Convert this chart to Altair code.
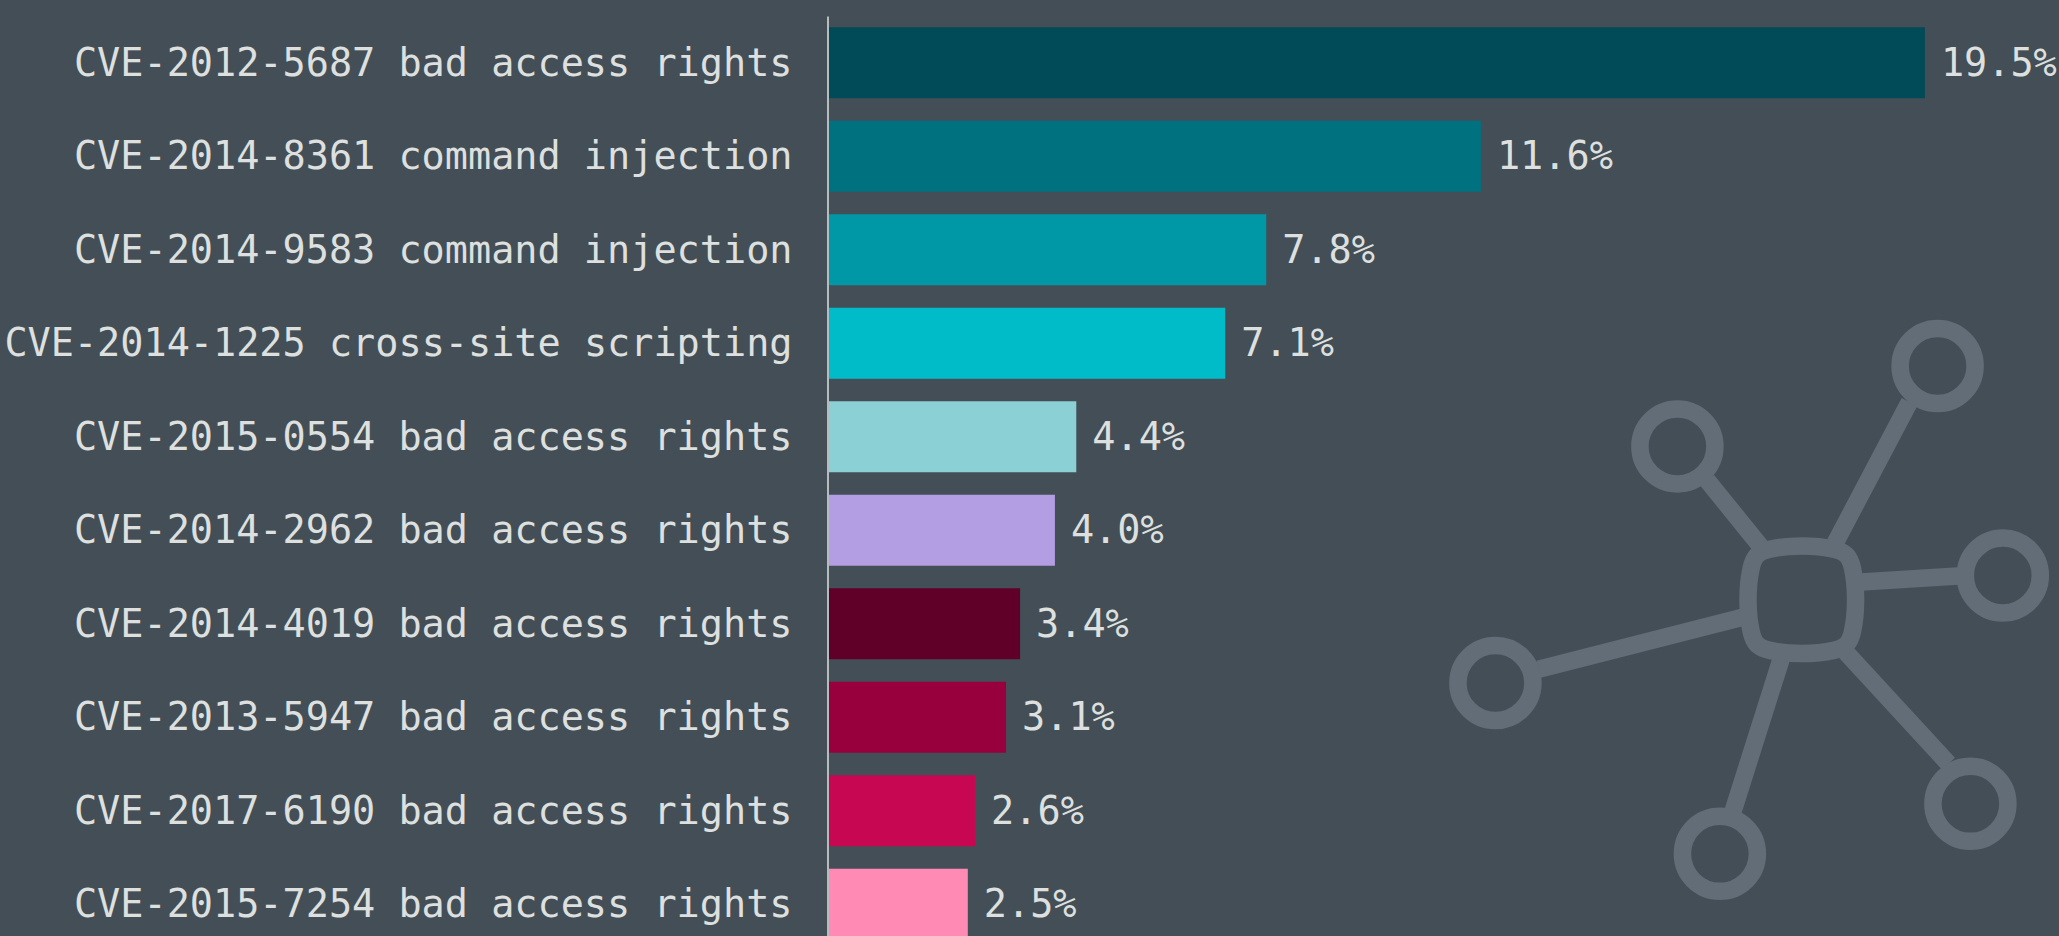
import altair as alt
import pandas as pd

BG = "#444e57"
ICON = "#626d78"
TEXT = "#dde0df"
FONT = "DejaVu Sans Mono"
W, H = 1230, 935

labels = [
    "CVE-2012-5687 bad access rights",
    "CVE-2014-8361 command injection",
    "CVE-2014-9583 command injection",
    "CVE-2014-1225 cross-site scripting",
    "CVE-2015-0554 bad access rights",
    "CVE-2014-2962 bad access rights",
    "CVE-2014-4019 bad access rights",
    "CVE-2013-5947 bad access rights",
    "CVE-2017-6190 bad access rights",
    "CVE-2015-7254 bad access rights",
]
shares = [19.5, 11.6, 7.78, 7.05, 4.4, 4.02, 3.4, 3.15, 2.6, 2.47]
share_text = ["19.5%", "11.6%", "7.8%", "7.1%", "4.4%", "4.0%", "3.4%", "3.1%", "2.6%", "2.5%"]
colors = ["#004b57", "#00717f", "#0097a7", "#00bcc9", "#8ad0d4",
          "#b39de3", "#600028", "#98003d", "#c70752", "#ff8ab4"]

# network icon, in its own units
node_x = [1108.6, 848.4, 1173.8, 666.4, 1141.4, 890.9]
node_y = [350, 430.4, 559.5, 667, 787.8, 837.8]
link_x = [1006, 932.5, 1032.5, 913.6, 1015.7, 952.2]
link_y = [527.4, 531.5, 566, 601.2, 635, 643]
link_x2 = [1080.4, 878.3, 1129, 709.7, 1119.5, 904.3]
link_y2 = [386.2, 464.5, 559.9, 653.2, 747.7, 794.3]
hub_x = [972.8]
hub_y = [583.8]
HUB = ("M-0.6,-0.95 C-0.25,-1.03 0.25,-1.03 0.6,-0.95 C0.82,-0.9 0.9,-0.82 0.95,-0.6 "
       "C1.03,-0.25 1.03,0.25 0.95,0.6 C0.9,0.82 0.82,0.9 0.6,0.95 "
       "C0.25,1.03 -0.25,1.03 -0.6,0.95 C-0.82,0.9 -0.9,0.82 -0.95,0.6 "
       "C-1.03,0.25 -1.03,-0.25 -0.95,-0.6 C-0.9,-0.82 -0.82,-0.9 -0.6,-0.95 Z")

bars_df = pd.DataFrame({"label": labels, "share": shares, "text": share_text})
links_df = pd.DataFrame({"x": link_x, "y": link_y, "x2": link_x2, "y2": link_y2})
nodes_df = pd.DataFrame({"x": node_x, "y": node_y})
hub_df = pd.DataFrame({"x": hub_x, "y": hub_y})

y_band = alt.Scale(domain=labels, paddingInner=0.24, paddingOuter=0.12)
x_share = alt.Scale(domain=[0, W / 56.2], nice=False, zero=True)
ix = alt.X("x:Q", axis=None, scale=alt.Scale(domain=[0, W], nice=False, zero=False))
iy = alt.Y("y:Q", axis=None, scale=alt.Scale(domain=[H, 0], nice=False, zero=False))

bars = alt.Chart(bars_df).mark_bar(clip=False).encode(
    x=alt.X("share:Q", axis=None, scale=x_share),
    y=alt.Y("label:N", title=None, sort=labels, scale=y_band,
            axis=alt.Axis(ticks=False, grid=False, domain=True, domainColor=TEXT,
                          domainWidth=1.5, offset=1.5, labelColor=TEXT, labelFont=FONT,
                          labelFontSize=38.5, labelPadding=35.5, labelLimit=0,
                          labelOffset=1, labelFontWeight="normal")),
    color=alt.Color("label:N", legend=None, scale=alt.Scale(domain=labels, range=colors)),
)
values = alt.Chart(bars_df).mark_text(
    align="left", baseline="middle", dx=16, dy=1, color=TEXT, font=FONT, fontSize=38.5
).encode(
    x=alt.X("share:Q", axis=None, scale=x_share),
    y=alt.Y("label:N", axis=None, sort=labels, scale=y_band),
    text="text:N",
)
links = alt.Chart(links_df).mark_rule(color=ICON, strokeWidth=17.5).encode(
    x=ix, y=iy, x2="x2:Q", y2="y2:Q"
)
nodes = alt.Chart(nodes_df).mark_point(
    shape="circle", size=5625, filled=False, color=ICON, strokeWidth=17.5, opacity=1
).encode(x=ix, y=iy)
hub = alt.Chart(hub_df).mark_point(
    shape=HUB, size=11342, filled=False, color=ICON, strokeWidth=17.5, opacity=1
).encode(x=ix, y=iy)

chart = (
    alt.layer(bars, values, links, nodes, hub)
    .resolve_scale(x="independent", y="independent", color="independent")
    .resolve_axis(x="independent", y="independent")
    .properties(
        width=W, height=H, background=BG,
        padding={"left": 829, "top": 16, "right": 0, "bottom": 0},
        autosize=alt.AutoSizeParams(type="none"),
    )
    .configure_view(stroke=None)
)
chart.save("out.html", embed_options={
    "renderer": "svg", "actions": False,
    "defaultStyle": f"html,body{{background:{BG};overflow:hidden;margin:0}}",
})
